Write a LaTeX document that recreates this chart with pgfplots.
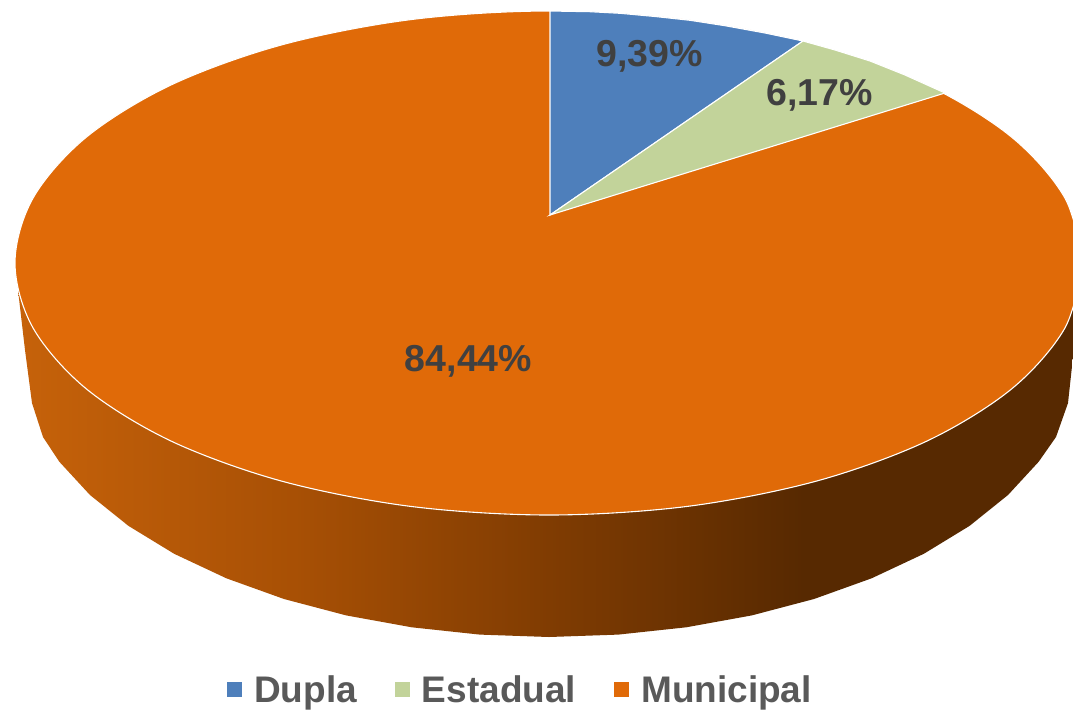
\documentclass[border=0pt]{standalone}
\usepackage{pgfplots}
\pgfplotsset{compat=1.18}
\usepackage{fontspec}
\setmainfont{Liberation Sans}
\definecolor{cblue}{HTML}{4E7FBB}
\definecolor{cgreen}{HTML}{C2D39A}
\definecolor{corange}{HTML}{E06A08}
\definecolor{tlabel}{HTML}{404040}
\definecolor{tlegend}{HTML}{595959}
\definecolor{sa}{RGB}{198,98,10}
\definecolor{sb}{RGB}{168,80,5}
\definecolor{sc}{RGB}{128,60,2}
\definecolor{sd}{RGB}{87,41,1}
\pgfdeclarehorizontalshading{sideshade}{100bp}{
  color(0bp)=(sa);
  color(25bp)=(sa);
  color(38bp)=(sb);
  color(50bp)=(sc);
  color(62bp)=(sd);
  color(75bp)=(sd);
  color(100bp)=(sd)}
\begin{document}
\begin{tikzpicture}
\useasboundingbox (0,0) rectangle (1073pt,710pt);
\begin{axis}[
  at={(0,0)}, anchor=south west,
  scale only axis, width=1073pt, height=710pt,
  xmin=0, xmax=1073, ymin=0, ymax=710, y dir=reverse,
  axis lines=none, clip=true,
  legend columns=3,
  legend image code/.code={\fill[draw=none,#1] (0pt,-7pt) rectangle (15pt,8pt);},
  legend style={draw=none, fill=none, at={(axis cs:520.5,690)}, anchor=center,
    font=\fontsize{37}{40}\selectfont\bfseries, text=tlegend, inner sep=0pt,
    /tikz/every even column/.append style={column sep=36pt},
    /tikz/every odd column/.append style={column sep=10pt}},
]
% side wall
\addplot[forget plot, shading=sideshade, draw=none] coordinates {
 (18,290) (25,350) (32,403) (43,437) (59.3,461.7) (90,495) (128.5,525.9) (174.2,553.8)
 (226.4,578.3) (284,599) (346.2,615.4) (411.8,627.3) (479.8,634.6) (549,637)
 (618.2,634.6) (686.2,627.3) (751.8,615.4) (814,599) (871.6,578.3) (923.8,553.8)
 (969.5,525.9) (1008,495) (1038.7,461.7) (1056,437) (1068,403) (1073,357) (1080,310)} -- cycle;
% Municipal: the whole top, the two other slices lie over it
\addplot[forget plot, fill=corange, draw=white, line width=1.1pt, smooth, tension=0.55] coordinates {
 (1083,263) (1064.8,328.2) (1011.5,389) (926.6,441.2) (816,481.2) (687.2,506.4) (549,515)
 (410.8,506.4) (282,481.2) (171.4,441.2) (86.5,389) (33.2,328.2) (15,263)
 (33.2,197.8) (86.5,137) (171.4,84.8) (282,44.8) (410.8,19.6) (549,11)
 (687.2,19.6) (816,44.8) (926.6,84.8) (1011.5,137) (1064.8,197.8) (1083,263)};
% Dupla
\addplot[forget plot, fill=cblue, draw=white, line width=1.1pt] coordinates {
 (550,215) (550,11) (590,11.7) (620,13.3) (655,16.5) (690,20.3) (725,25.7) (765,33) (803,41)} -- cycle;
% Estadual
\addplot[forget plot, fill=cgreen, draw=white, line width=1.1pt] coordinates {
 (550,215) (803,41) (835,50) (870,61) (905,75) (945,93)} -- cycle;
\addlegendimage{fill=cblue}
\addlegendentry{Dupla}
\addlegendimage{fill=cgreen}
\addlegendentry{Estadual}
\addlegendimage{fill=corange}
\addlegendentry{Municipal}
\node[font=\fontsize{37.5}{40}\selectfont\bfseries, text=tlabel] at (axis cs:649.5,56.5) {9,39\%};
\node[font=\fontsize{37.5}{40}\selectfont\bfseries, text=tlabel] at (axis cs:819.5,95.5) {6,17\%};
\node[font=\fontsize{37.5}{40}\selectfont\bfseries, text=tlabel] at (axis cs:468.5,361.5) {84,44\%};
\end{axis}
\end{tikzpicture}
\end{document}
